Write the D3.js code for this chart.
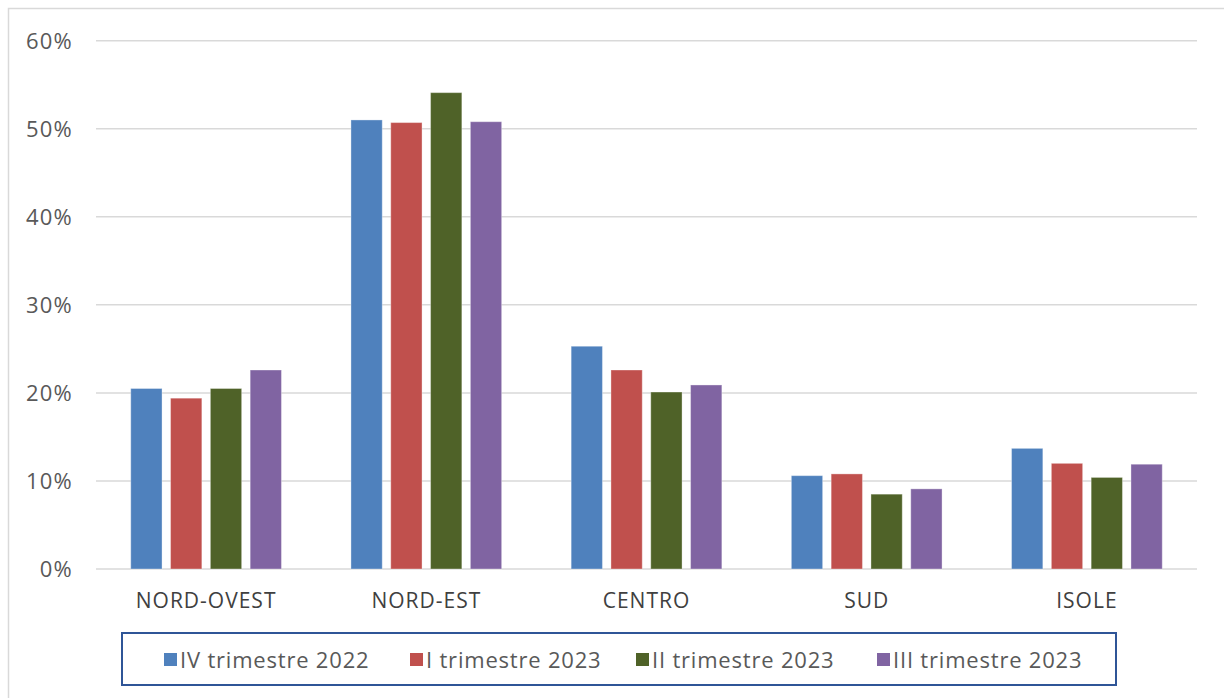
<!DOCTYPE html>
<html><head><meta charset="utf-8">
<script src="https://cdn.jsdelivr.net/npm/d3@7"></script>
<style>body{margin:0;background:#fff}svg{display:block}</style>
</head><body><svg id="c" width="1224" height="698"></svg>
<script>
const categories = ["NORD-OVEST","NORD-EST","CENTRO","SUD","ISOLE"];
const seriesNames = ["IV trimestre 2022","I trimestre 2023","II trimestre 2023","III trimestre 2023"];
const seriesColors = ["#4f81bd","#c0504d","#4f6228","#8064a2"];
const ivTrim2022 = [20.5, 51.0, 25.3, 10.6, 13.7];
const iTrim2023  = [19.4, 50.7, 22.6, 10.8, 12.0];
const iiTrim2023 = [20.5, 54.1, 20.1, 8.5, 10.4];
const iiiTrim2023= [22.6, 50.8, 20.9, 9.1, 11.9];
const yTicks = [0,10,20,30,40,50,60];
const seriesValues = [ivTrim2022, iTrim2023, iiTrim2023, iiiTrim2023];

const svg = d3.select("#c");
const font = "'Open Sans', 'Liberation Sans', Arial, sans-serif";

// outer border
svg.append("rect").attr("x",8.5).attr("y",8.5).attr("width",1230).attr("height",700)
  .attr("fill","#fff").attr("stroke","#d9d9d9").attr("stroke-width",1.5);

const x0 = d3.scaleBand().domain(categories).range([96,1197]).padding(0);
const x1 = d3.scaleBand().domain(d3.range(4)).range([0,x0.bandwidth()]).paddingInner(0.214).paddingOuter(0.873);
const y = d3.scaleLinear().domain([0,60]).range([569,40.7]);

// gridlines
svg.append("g").selectAll("line").data(yTicks).join("line")
  .attr("x1",96).attr("x2",1197).attr("y1",d=>y(d)).attr("y2",d=>y(d))
  .attr("stroke","#d9d9d9").attr("stroke-width",1.5);

// y axis labels
const yAxis = d3.axisLeft(y).tickValues(yTicks).tickFormat(d=>d+"%").tickSize(0).tickPadding(0);
const ga = svg.append("g").attr("transform","translate(73,0)").call(yAxis);
ga.select(".domain").remove();
ga.selectAll("text").attr("font-family",font).attr("font-size",22).attr("letter-spacing",1.2).attr("fill","#595959").attr("dy","0.35em");

// bars
const groups = svg.append("g").selectAll("g").data(categories).join("g")
  .attr("transform",d=>`translate(${x0(d)},0)`);
groups.selectAll("rect").data((d,i)=>seriesValues.map((s,j)=>({j,v:s[i]}))).join("rect")
  .attr("x",d=>x1(d.j)).attr("width",x1.bandwidth())
  .attr("y",d=>y(d.v)).attr("height",d=>y(0)-y(d.v))
  .attr("fill",d=>seriesColors[d.j]).attr("stroke","#fff").attr("stroke-opacity",0.35).attr("stroke-width",1);

// x axis labels
const xAxis = d3.axisBottom(x0).tickSize(0).tickPadding(0);
const gx = svg.append("g").attr("transform","translate(0,593)").call(xAxis);
gx.select(".domain").remove();
gx.selectAll("text").attr("font-family",font).attr("font-size",21).attr("letter-spacing",1).attr("fill","#404040").attr("dy","0.71em");

// legend
svg.append("rect").attr("x",122).attr("y",633).attr("width",994).attr("height",52)
  .attr("fill","#fff").attr("stroke","#2f5597").attr("stroke-width",2);
const legX = [164, 410, 636, 877];
const lg = svg.append("g").selectAll("g").data(seriesNames).join("g")
  .attr("transform",(d,i)=>`translate(${legX[i]},660)`);
lg.append("rect").attr("x",0).attr("y",-7).attr("width",13).attr("height",13).attr("fill",(d,i)=>seriesColors[i]);
lg.append("text").attr("x",16).attr("y",0).attr("dy","0.35em").text(d=>d)
  .attr("font-family",font).attr("font-size",22).attr("letter-spacing",0.8).attr("fill","#595959");
</script></body></html>
